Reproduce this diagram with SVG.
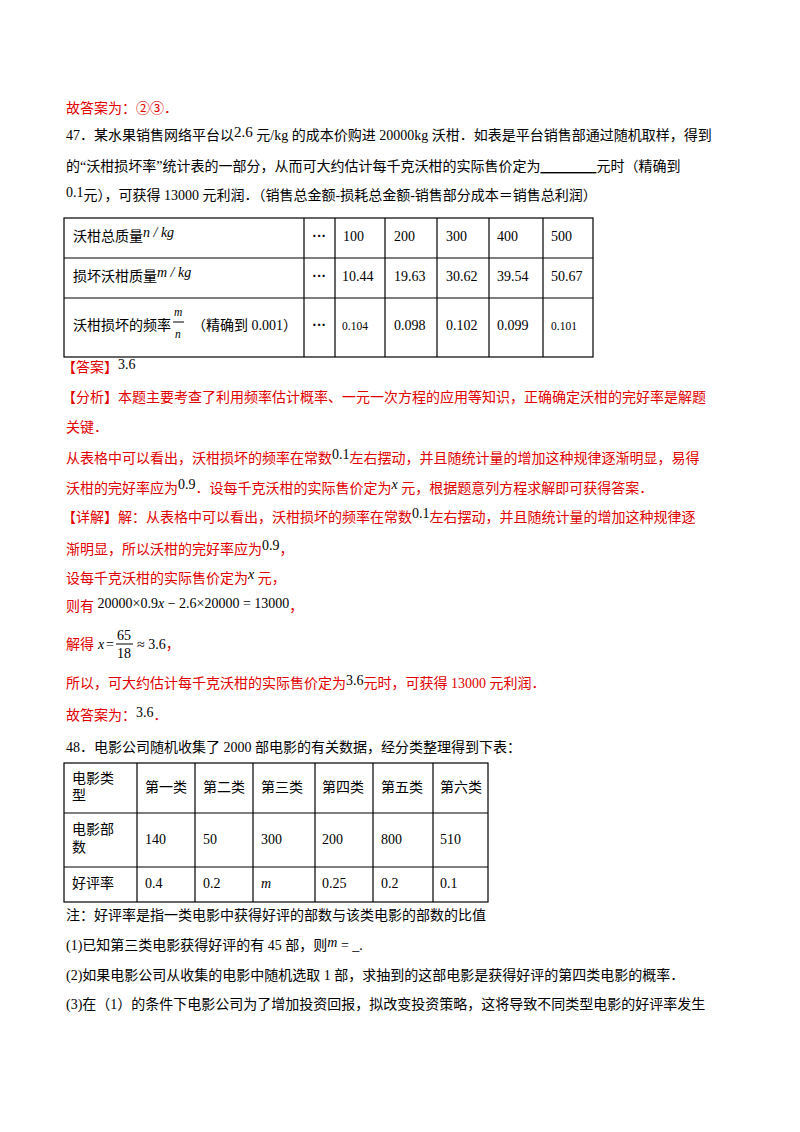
<svg xmlns="http://www.w3.org/2000/svg" width="800" height="1132" viewBox="0 0 800 1132">
<style>
text{font-family:"Liberation Serif","Noto Sans CJK SC",serif;font-size:14px;fill:#000}
.r{fill:#e00000}
.i{font-style:italic}
.s{font-size:11.5px}
.t{fill:none;stroke:#000;stroke-width:1.2}
</style>
<rect width="800" height="1132" fill="#fff"/>
<text x="66" y="113" class="r">故答案为：②③．</text>
<text x="66" y="140">47．某水果销售网络平台以<tspan font-size="15" dy="-3">2.6</tspan><tspan dy="3"> 元/kg 的成本价购进 20000kg 沃柑．如表是平台销售部通过随机取样，得到</tspan></text>
<text x="66" y="171">的“沃柑损坏率”统计表的一部分，从而可大约估计每千克沃柑的实际售价定为<tspan text-decoration="underline" font-weight="bold" xml:space="preserve">                </tspan>元时（精确到</text>
<text x="66" y="200"><tspan dy="-3">0.1</tspan><tspan dy="3">元），可获得 13000 元利润．（销售总金额-损耗总金额-销售部分成本＝销售总利润）</tspan></text>
<g id="table1">
<rect class="t" x="64" y="218" width="529" height="139"/>
<line class="t" x1="64" y1="258" x2="593" y2="258"/>
<line class="t" x1="64" y1="298" x2="593" y2="298"/>
<line class="t" x1="304" y1="218" x2="304" y2="357"/>
<line class="t" x1="335" y1="218" x2="335" y2="357"/>
<line class="t" x1="385" y1="218" x2="385" y2="357"/>
<line class="t" x1="437" y1="218" x2="437" y2="357"/>
<line class="t" x1="489" y1="218" x2="489" y2="357"/>
<line class="t" x1="543" y1="218" x2="543" y2="357"/>
<text x="73" y="241">沃柑总质量<tspan class="i" dy="-4">n / kg</tspan></text>
<text x="73" y="281">损坏沃柑质量<tspan class="i" dy="-4">m / kg</tspan></text>
<text x="73" y="330">沃柑损坏的频率</text>
<text x="174" y="316" class="i s">m</text><line x1="173" y1="322" x2="184" y2="322" stroke="#000"/><text x="175" y="338" class="i s">n</text>
<text x="192" y="330">（精确到 0.001）</text>
<g font-weight="bold"><text x="312" y="241">···</text><text x="312" y="281">···</text><text x="312" y="330">···</text></g>
<text x="343" y="241">100</text><text x="394" y="241">200</text><text x="446" y="241">300</text><text x="497" y="241">400</text><text x="551" y="241">500</text>
<text x="342" y="281">10.44</text><text x="394" y="281">19.63</text><text x="446" y="281">30.62</text><text x="497" y="281">39.54</text><text x="551" y="281">50.67</text>
<text x="342" y="330" class="s">0.104</text><text x="394" y="330">0.098</text><text x="446" y="330">0.102</text><text x="497" y="330">0.099</text><text x="551" y="330" class="s">0.101</text>
</g>
<text x="62" y="372" class="r">【答案】<tspan fill="#000" dy="-3">3.6</tspan></text>
<text x="62" y="402" class="r">【分析】本题主要考查了利用频率估计概率、一元一次方程的应用等知识，正确确定沃柑的完好率是解题</text>
<text x="66" y="432" class="r">关键．</text>
<text x="66" y="463" class="r">从表格中可以看出，沃柑损坏的频率在常数<tspan fill="#000" dy="-4">0.1</tspan><tspan dy="4">左右摆动，并且随统计量的增加这种规律逐渐明显，易得</tspan></text>
<text x="66" y="493" class="r">沃柑的完好率应为<tspan fill="#000" dy="-4">0.9</tspan><tspan dy="4">．设每千克沃柑的实际售价定为</tspan><tspan fill="#000" class="i" dy="-4">x</tspan><tspan dy="4"> 元，根据题意列方程求解即可获得答案．</tspan></text>
<text x="62" y="522" class="r">【详解】解：从表格中可以看出，沃柑损坏的频率在常数<tspan fill="#000" dy="-4">0.1</tspan><tspan dy="4">左右摆动，并且随统计量的增加这种规律逐</tspan></text>
<text x="66" y="554" class="r">渐明显，所以沃柑的完好率应为<tspan fill="#000" dy="-4">0.9</tspan><tspan dy="4">，</tspan></text>
<text x="66" y="583" class="r">设每千克沃柑的实际售价定为<tspan fill="#000" class="i" dy="-4">x</tspan><tspan dy="4"> 元，</tspan></text>
<text x="66" y="611" class="r">则有<tspan fill="#000" dy="-3"> 20000×0.9<tspan class="i">x</tspan> − 2.6×20000 = 13000</tspan><tspan dy="3">，</tspan></text>
<text x="66" y="649" class="r">解得</text>
<text x="98" y="649" class="i">x</text><text x="106" y="649">=</text>
<text x="117" y="640">65</text><line x1="116" y1="644" x2="133" y2="644" stroke="#000"/><text x="117" y="658">18</text>
<text x="137" y="649">≈ 3.6<tspan class="r">，</tspan></text>
<text x="66" y="688" class="r">所以，可大约估计每千克沃柑的实际售价定为<tspan fill="#000" dy="-3">3.6</tspan><tspan dy="3">元时，可获得 13000 元利润．</tspan></text>
<text x="66" y="720" class="r">故答案为：<tspan fill="#000" dy="-3">3.6</tspan><tspan dy="3">．</tspan></text>
<text x="66" y="752">48．电影公司随机收集了 2000 部电影的有关数据，经分类整理得到下表：</text>
<g id="table2">
<rect class="t" x="64" y="763" width="424" height="139"/>
<line class="t" x1="64" y1="813" x2="488" y2="813"/>
<line class="t" x1="64" y1="867" x2="488" y2="867"/>
<line class="t" x1="137" y1="763" x2="137" y2="902"/>
<line class="t" x1="195" y1="763" x2="195" y2="902"/>
<line class="t" x1="253" y1="763" x2="253" y2="902"/>
<line class="t" x1="315" y1="763" x2="315" y2="902"/>
<line class="t" x1="373" y1="763" x2="373" y2="902"/>
<line class="t" x1="433" y1="763" x2="433" y2="902"/>
<text x="72" y="783">电影类</text><text x="72" y="800">型</text>
<text x="145" y="792">第一类</text><text x="203" y="792">第二类</text><text x="261" y="792">第三类</text><text x="322" y="792">第四类</text><text x="381" y="792">第五类</text><text x="440" y="792">第六类</text>
<text x="72" y="834">电影部</text><text x="72" y="852">数</text>
<text x="145" y="844">140</text><text x="203" y="844">50</text><text x="261" y="844">300</text><text x="322" y="844">200</text><text x="381" y="844">800</text><text x="440" y="844">510</text>
<text x="72" y="888">好评率</text>
<text x="145" y="888">0.4</text><text x="203" y="888">0.2</text><text x="261" y="888" class="i">m</text><text x="322" y="888">0.25</text><text x="381" y="888">0.2</text><text x="440" y="888">0.1</text>
</g>
<text x="66" y="920">注：好评率是指一类电影中获得好评的部数与该类电影的部数的比值</text>
<text x="66" y="950">(1)已知第三类电影获得好评的有 45 部，则<tspan class="i" dy="-3">m</tspan><tspan dy="3"> =  _.</tspan></text>
<text x="66" y="980">(2)如果电影公司从收集的电影中随机选取 1 部，求抽到的这部电影是获得好评的第四类电影的概率．</text>
<text x="66" y="1009">(3)在（1）的条件下电影公司为了增加投资回报，拟改变投资策略，这将导致不同类型电影的好评率发生</text>
</svg>
